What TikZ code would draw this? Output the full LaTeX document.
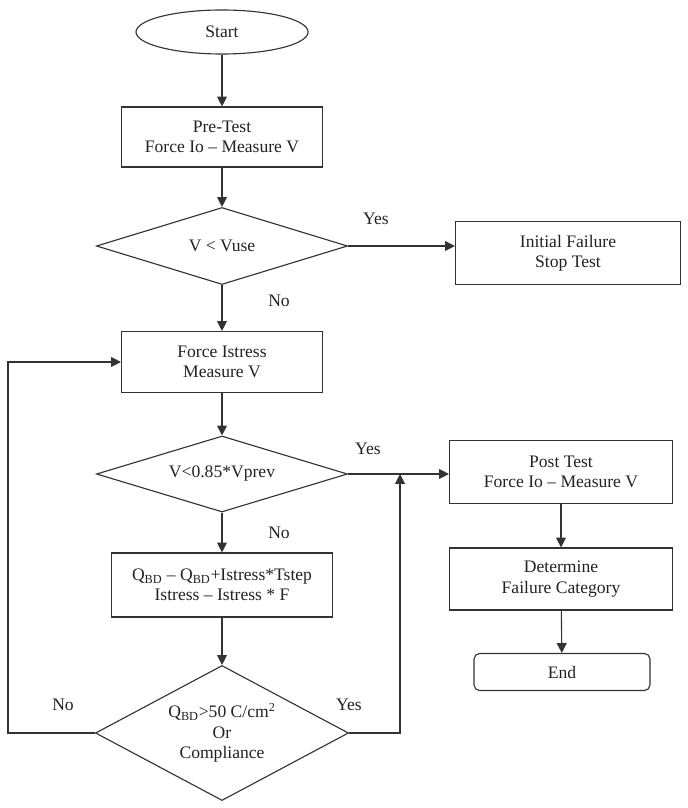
\documentclass[tikz,border=0pt]{standalone}
\usepackage{fontspec}
\setmainfont{Liberation Serif}
\usepackage{xcolor}
\usepackage{tikz}
\usetikzlibrary{positioning,calc,arrows.meta,shapes.geometric}
\definecolor{FLine}{HTML}{333333}
\definecolor{FText}{HTML}{222222}

\begin{document}
\begin{tikzpicture}[x=0.025cm, y=-0.025cm,
  every node/.style={align=center, text=FText, font=\fontsize{12.5}{14.5}\selectfont},
  procbox/.style={draw=FLine, line width=0.8pt, rectangle, inner sep=0pt},
  decide/.style={draw=FLine, line width=0.8pt, diamond, inner sep=0pt, aspect=3},
  flow/.style={draw=FLine, line width=0.8pt, -{Triangle[length=7pt,width=7pt]}},
  plain/.style={draw=FLine, line width=0.8pt}]
\useasboundingbox (0,0) rectangle (688,808);
% main column
\node[draw=FLine, line width=0.8pt, ellipse, minimum width=4.3cm, minimum height=1.1cm] (start) at (222,32) {Start};
\node[procbox, minimum width=5.025cm, minimum height=1.5cm] (pretest) at (222,137) {Pre-Test\\Force Io -- Measure V};
\node[decide, minimum width=6.275cm, minimum height=1.925cm] (vuse) at (222,246) {V < Vuse};
\node[procbox, minimum width=5.625cm, minimum height=1.575cm] (initfail) at (568,253) {Initial Failure\\Stop Test};
\node[procbox, minimum width=5.025cm, minimum height=1.525cm] (stress) at (222,362) {Force Istress\\Measure V};
\node[decide, minimum width=6.275cm, minimum height=1.9cm] (vprev) at (222,474) {V<0.85*Vprev};
\node[procbox, minimum width=5.525cm, minimum height=1.6cm] (qbd) at (222,585)
  {Q\textsubscript{BD} -- Q\textsubscript{BD}+Istress*Tstep\\Istress -- Istress * F};
\node[decide, aspect=1.9, minimum width=6.325cm, minimum height=3.375cm] (limit) at (222,733)
  {Q\textsubscript{BD}>50 C/cm\textsuperscript{2}\\Or\\Compliance};
% right column
\node[procbox, minimum width=5.575cm, minimum height=1.575cm] (posttest) at (561,472) {Post Test\\Force Io -- Measure V};
\node[procbox, minimum width=5.575cm, minimum height=1.55cm] (category) at (561,579) {Determine\\Failure Category};
\node[procbox, rounded corners=4pt, minimum width=4.4cm, minimum height=0.925cm] (end) at (562,672) {End};
% helper points
\coordinate (join) at (400,474);
\coordinate (back) at (8,733);
% connectors
\draw[flow] (start) -- (pretest);
\draw[flow] (pretest) -- (vuse);
\draw[flow] (vuse.east) -- (vuse.east -| initfail.west);
\draw[flow] (vuse.south) -- (stress);
\draw[flow] (stress) -- (vprev);
\draw[flow] (vprev.east) -- (vprev.east -| posttest.west);
\draw[flow] (vprev.south) -- (qbd);
\draw[flow] (qbd) -- (limit.north);
\draw[flow] (limit.east) -| (join);
\draw[flow] (limit.west) -- (back) |- (stress.west);
\draw[flow] (posttest) -- (category);
\draw[flow] (category) -- (end);
% labels
\node (yes1) at (376,219) {Yes};
\node (no1) at (279,301) {No};
\node (yes2) at (368,449) {Yes};
\node (no2) at (279,533) {No};
\node (yes3) at (349,705) {Yes};
\node (no3) at (63,705) {No};
\end{tikzpicture}
\end{document}
